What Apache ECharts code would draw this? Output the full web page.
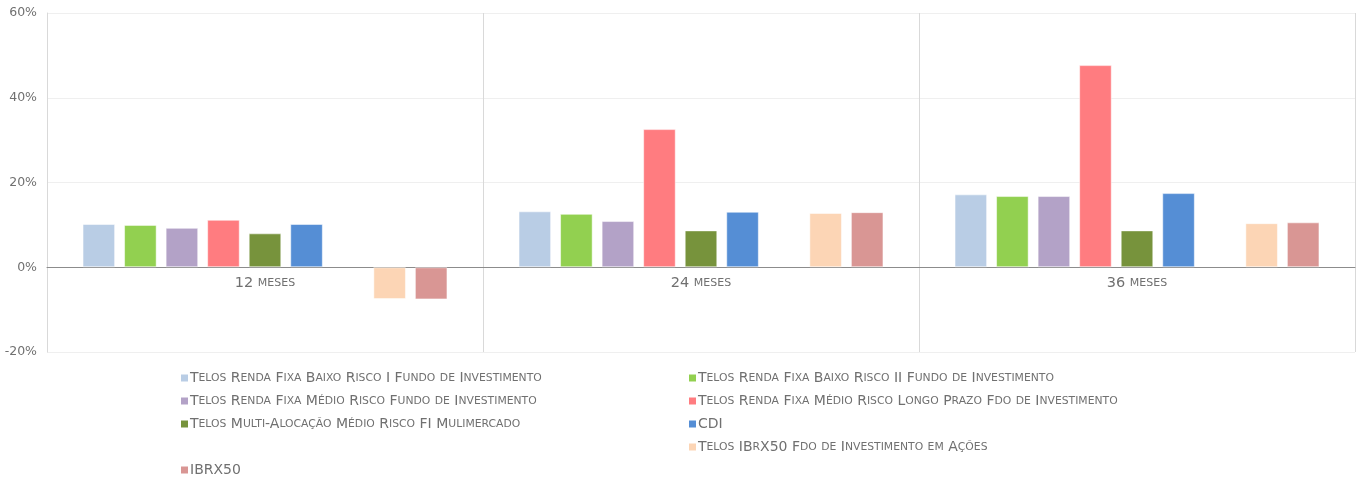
<!DOCTYPE html>
<html>
<head>
<meta charset="utf-8">
<script src="https://cdn.jsdelivr.net/npm/echarts@6/dist/echarts.min.js"></script>
<style>html,body{margin:0;padding:0;background:#fff}#c{width:1365px;height:480px}</style>
</head>
<body>
<div id="c"></div>
<script>
const categories = ['12 meses', '24 meses', '36 meses'];
const seriesNames = [
  'Telos Renda Fixa Baixo Risco I Fundo de Investimento',
  'Telos Renda Fixa Baixo Risco II Fundo de Investimento',
  'Telos Renda Fixa Médio Risco Fundo de Investimento',
  'Telos Renda Fixa Médio Risco Longo Prazo Fdo de Investimento',
  'Telos Multi-Alocação Médio Risco FI Mulimercado',
  'CDI',
  ' ',
  'Telos IBrX50 Fdo de Investimento em Ações',
  'IBRX50'
];
const s1 = [10.2, 13.2, 17.2];
const s2 = [10.0, 12.6, 16.8];
const s3 = [9.3, 10.9, 16.8];
const s4 = [11.2, 32.6, 47.7];
const s5 = [8.0, 8.7, 8.7];
const s6 = [10.2, 13.1, 17.5];
const s7 = [null, null, null];
const s8 = [-7.5, 12.8, 10.4];
const s9 = [-7.6, 13.0, 10.6];
const seriesValues = [s1, s2, s3, s4, s5, s6, s7, s8, s9];
const colors = ['#B9CDE5', '#92D050', '#B3A2C7', '#FF7C80', '#77933C', '#558ED5', '#ffffff', '#FCD5B5', '#D99694'];
const yTicks = { min: -20, max: 60, interval: 20 };

const FONT = 'DejaVu Sans';
function smallCaps(str) {
  let out = '', cur = null, buf = '';
  for (const ch of str) {
    const isLower = ch !== ch.toUpperCase();
    const cls = isLower ? 'l' : 'u';
    if (cls !== cur) { if (buf) out += '{' + cur + '|' + buf + '}'; buf = ''; cur = cls; }
    buf += isLower ? ch.toUpperCase() : ch;
  }
  if (buf) out += '{' + cur + '|' + buf + '}';
  return out;
}
const TXT = '#707070';
const legendRich = {
  u: { fontFamily: FONT, fontSize: 14, color: TXT, lineHeight: 16 },
  l: { fontFamily: FONT, fontSize: 10.8, color: TXT, lineHeight: 16 }
};
function legendBlock(names, left, top) {
  return {
    orient: 'vertical', left: left, top: top, itemGap: 9, padding: 0,
    itemWidth: 7, itemHeight: 7, icon: 'rect', itemStyle: { borderWidth: 0 },
    data: names, formatter: n => smallCaps(n),
    textStyle: { padding: [0, 0, 0, -3], rich: legendRich }
  };
}
const chart = echarts.init(document.getElementById('c'));
chart.setOption({
  animation: false,
  color: colors,
  grid: { left: 47, right: 10, top: 13, bottom: 128, containLabel: false },
  legend: [
    legendBlock([seriesNames[0], seriesNames[2], seriesNames[4]], 181, 371),
    legendBlock([seriesNames[8]], 181, 463),
    legendBlock([seriesNames[1], seriesNames[3], seriesNames[5], seriesNames[7]], 689, 371)
  ],
  xAxis: {
    type: 'category', data: categories, position: 'bottom', offset: -85,
    axisLine: { onZero: false, lineStyle: { color: '#8c8c8c', width: 1 } },
    axisTick: { show: false },
    splitLine: { show: true, lineStyle: { color: '#d9d9d9' } },
    axisLabel: {
      margin: 9, formatter: v => smallCaps(v),
      rich: {
        u: { fontFamily: FONT, fontSize: 14.5, color: TXT },
        l: { fontFamily: FONT, fontSize: 11, color: TXT }
      }
    }
  },
  yAxis: {
    type: 'value', min: yTicks.min, max: yTicks.max, interval: yTicks.interval,
    axisLine: { show: true, lineStyle: { color: '#d9d9d9' } },
    axisTick: { show: false },
    splitLine: { lineStyle: { color: '#efefef' } },
    axisLabel: { formatter: '{value}%', margin: 10, fontFamily: FONT, fontSize: 12.5, color: TXT }
  },
  series: seriesNames.map((n, i) => ({
    type: 'bar', name: n, data: seriesValues[i],
    barGap: '27.5%', barCategoryGap: '16.3%',
    itemStyle: { color: colors[i], borderColor: 'rgba(255,255,255,0.5)', borderWidth: 1 }
  }))
});
</script>
</body>
</html>
